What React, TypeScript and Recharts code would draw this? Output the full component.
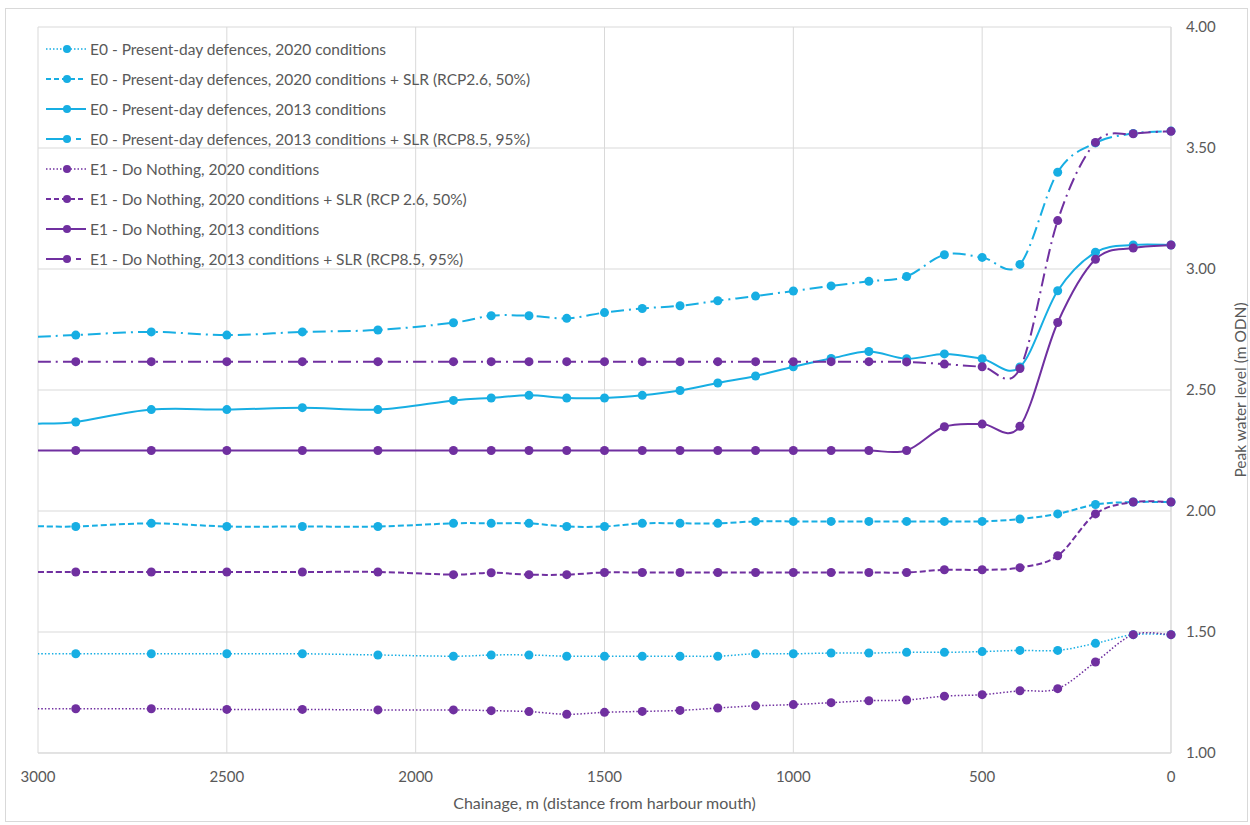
import { LineChart, Line, XAxis, YAxis, CartesianGrid, Label } from 'recharts'

// chainage, m (distance from harbour mouth)
const chainage = [3000, 2900, 2700, 2500, 2300, 2100, 1900, 1800, 1700, 1600, 1500, 1400, 1300, 1200, 1100, 1000, 900, 800, 700, 600, 500, 400, 300, 200, 100, 0]

// peak water levels, m ODN
const e0Present2020 = [1.41, 1.41, 1.41, 1.41, 1.41, 1.405, 1.40, 1.405, 1.405, 1.40, 1.40, 1.40, 1.40, 1.40, 1.41, 1.41, 1.413, 1.413, 1.416, 1.416, 1.419, 1.424, 1.424, 1.453, 1.489, 1.489]
const e0Present2020Slr = [1.937, 1.936, 1.949, 1.936, 1.936, 1.936, 1.949, 1.949, 1.949, 1.936, 1.936, 1.949, 1.949, 1.949, 1.957, 1.957, 1.957, 1.957, 1.957, 1.957, 1.957, 1.967, 1.988, 2.027, 2.037, 2.037]
const e0Present2013 = [2.361, 2.368, 2.419, 2.419, 2.427, 2.419, 2.457, 2.467, 2.478, 2.467, 2.467, 2.478, 2.498, 2.529, 2.558, 2.596, 2.63, 2.659, 2.629, 2.649, 2.629, 2.595, 2.91, 3.069, 3.099, 3.099]
const e0Present2013Slr = [2.72, 2.727, 2.74, 2.727, 2.74, 2.748, 2.778, 2.807, 2.807, 2.796, 2.82, 2.837, 2.848, 2.869, 2.888, 2.909, 2.93, 2.949, 2.969, 3.059, 3.048, 3.019, 3.40, 3.521, 3.56, 3.57]
const e1Nothing2020 = [1.183, 1.183, 1.183, 1.18, 1.18, 1.178, 1.178, 1.175, 1.171, 1.16, 1.168, 1.172, 1.176, 1.186, 1.195, 1.2, 1.208, 1.216, 1.219, 1.235, 1.241, 1.257, 1.266, 1.376, 1.489, 1.489]
const e1Nothing2020Slr = [1.748, 1.748, 1.748, 1.748, 1.748, 1.748, 1.737, 1.745, 1.737, 1.737, 1.746, 1.746, 1.746, 1.746, 1.746, 1.746, 1.746, 1.746, 1.746, 1.757, 1.757, 1.766, 1.815, 1.988, 2.037, 2.037]
const e1Nothing2013 = [2.25, 2.25, 2.25, 2.25, 2.25, 2.25, 2.25, 2.25, 2.25, 2.25, 2.25, 2.25, 2.25, 2.25, 2.25, 2.25, 2.25, 2.25, 2.25, 2.348, 2.359, 2.35, 2.779, 3.04, 3.087, 3.099]
const e1Nothing2013Slr = [2.617, 2.617, 2.617, 2.617, 2.617, 2.617, 2.617, 2.617, 2.617, 2.617, 2.617, 2.617, 2.617, 2.617, 2.617, 2.617, 2.617, 2.617, 2.616, 2.607, 2.596, 2.589, 3.20, 3.523, 3.559, 3.569]

const xTicks = [0, 500, 1000, 1500, 2000, 2500, 3000]
const yTicks = [1, 1.5, 2, 2.5, 3, 3.5, 4]

const CYAN = '#17AEE3'
const PURPLE = '#7030A0'
const TEXT = '#595959'
const GRID = '#d9d9d9'
const FONT = 'Lato, "Open Sans", sans-serif'

const series = [
  { key: 'e0_2020', name: 'E0 - Present-day defences, 2020 conditions', values: e0Present2020, color: CYAN, dash: '1.5 2', legendDash: '1.5 2', width: 1.5 },
  { key: 'e0_2020_slr', name: 'E0 - Present-day defences, 2020 conditions + SLR (RCP2.6, 50%)', values: e0Present2020Slr, color: CYAN, dash: '6 3', legendDash: '5 3', width: 2 },
  { key: 'e0_2013', name: 'E0 - Present-day defences, 2013 conditions', values: e0Present2013, color: CYAN, dash: undefined, legendDash: undefined, width: 2 },
  { key: 'e0_2013_slr', name: 'E0 - Present-day defences, 2013 conditions + SLR (RCP8.5, 95%)', values: e0Present2013Slr, color: CYAN, dash: '13 5 2 5', legendDash: '25 5 5 5', width: 2 },
  { key: 'e1_2020', name: 'E1 - Do Nothing, 2020 conditions', values: e1Nothing2020, color: PURPLE, dash: '1.5 2', legendDash: '1.5 2', width: 1.5 },
  { key: 'e1_2020_slr', name: 'E1 - Do Nothing, 2020 conditions + SLR (RCP 2.6, 50%)', values: e1Nothing2020Slr, color: PURPLE, dash: '6 3', legendDash: '5 3', width: 2 },
  { key: 'e1_2013', name: 'E1 - Do Nothing, 2013 conditions', values: e1Nothing2013, color: PURPLE, dash: undefined, legendDash: undefined, width: 2 },
  { key: 'e1_2013_slr', name: 'E1 - Do Nothing, 2013 conditions + SLR (RCP8.5, 95%)', values: e1Nothing2013Slr, color: PURPLE, dash: '13 5 2 5', legendDash: '25 5 5 5', width: 2 },
]

const data = chainage.map((x, i) => {
  const row: any = { x }
  series.forEach((s) => { row[s.key] = s.values[i] })
  return row
})

// Excel-like smoothed line (Catmull-Rom style bezier segments)
const excelSmooth = (context: any) => {
  let pts: number[][] = []
  return {
    areaStart() {},
    areaEnd() {},
    lineStart() { pts = [] },
    point(x: number, y: number) { pts.push([+x, +y]) },
    lineEnd() {
      const n = pts.length
      if (!n) return
      context.moveTo(pts[0][0], pts[0][1])
      for (let i = 0; i < n - 1; i++) {
        const p0 = pts[Math.max(0, i - 1)]
        const p1 = pts[i]
        const p2 = pts[i + 1]
        const p3 = pts[Math.min(n - 1, i + 2)]
        context.bezierCurveTo(
          p1[0] + (p2[0] - p0[0]) / 6, p1[1] + (p2[1] - p0[1]) / 6,
          p2[0] - (p3[0] - p1[0]) / 6, p2[1] - (p3[1] - p1[1]) / 6,
          p2[0], p2[1],
        )
      }
    },
  }
}

const makeDot = (color: string, key: string) => (props: any) => {
  const { cx, cy, payload, index } = props
  if (payload.x === 3000) return <g key={`${key}-${index}`} />
  return <circle key={`${key}-${index}`} cx={cx} cy={cy} r={4.5} fill={color} stroke="none" />
}

const ChartLegend = () => (
  <div style={{ position: 'absolute', left: 46, top: 34, fontFamily: FONT, fontSize: 15.5, color: TEXT }}>
    {series.map((s) => (
      <div key={s.key} style={{ height: 30, display: 'flex', alignItems: 'center' }}>
        <svg width={42} height={12} style={{ marginRight: 2 }}>
          <line x1={0} y1={6} x2={40} y2={6} stroke={s.color} strokeWidth={s.width} strokeDasharray={s.legendDash} />
          <circle cx={21} cy={6} r={4} fill={s.color} />
        </svg>
        <span>{s.name}</span>
      </div>
    ))}
  </div>
)

const YTitle = (props: any) => {
  const vb = props.viewBox
  const cx = vb.x + 69
  const cy = vb.y + vb.height / 2
  return (
    <text x={cx} y={cy} transform={`rotate(-90 ${cx} ${cy})`} textAnchor="middle" dominantBaseline="central" fill={TEXT} fontSize={15.5} fontFamily={FONT}>
      Peak water level (m ODN)
    </text>
  )
}

export default function App() {
  return (
    <div style={{ position: 'absolute', left: 0, top: 0, width: 1250, height: 825, background: '#fff' }}>
      <div style={{ position: 'absolute', left: 5, top: 8, width: 1243, height: 814, border: `1px solid ${GRID}`, boxSizing: 'border-box' }} />
      <LineChart width={1250} height={825} data={data} margin={{ top: 27, left: 38, right: 7, bottom: 12 }} style={{ position: 'absolute', left: 0, top: 0 }}>
        <CartesianGrid stroke={GRID} strokeWidth={1} />
        <XAxis
          dataKey="x"
          type="number"
          domain={[0, 3000]}
          reversed
          ticks={xTicks}
          height={60}
          axisLine={{ stroke: GRID }}
          tickLine={false}
          tickSize={0}
          tickMargin={18}
          tick={{ fill: TEXT, fontSize: 15, fontFamily: FONT }}
        >
          <Label value="Chainage, m (distance from harbour mouth)" position="insideBottom" offset={4} fill={TEXT} fontSize={16} fontFamily={FONT} />
        </XAxis>
        <YAxis
          orientation="right"
          type="number"
          domain={[1, 4]}
          ticks={yTicks}
          width={72}
          axisLine={{ stroke: GRID }}
          tickLine={false}
          tickSize={0}
          tickMargin={15}
          tickFormatter={(v: number) => v.toFixed(2)}
          tick={{ fill: TEXT, fontSize: 15, fontFamily: FONT }}
        >
          <Label content={YTitle} />
        </YAxis>
        {series.map((s) => (
          <Line
            key={s.key}
            dataKey={s.key}
            name={s.name}
            type={excelSmooth as any}
            stroke={s.color}
            strokeWidth={s.width}
            strokeDasharray={s.dash}
            dot={makeDot(s.color, s.key)}
            activeDot={false}
            isAnimationActive={false}
          />
        ))}
      </LineChart>
      <ChartLegend />
    </div>
  )
}
